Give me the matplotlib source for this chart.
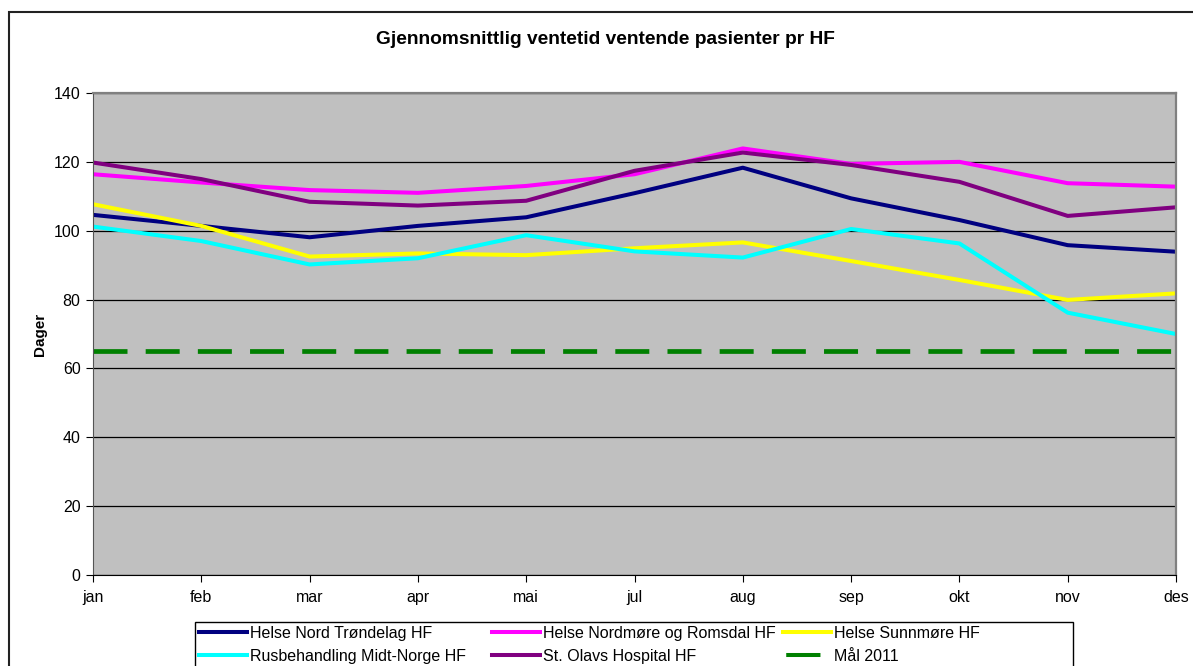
import matplotlib
matplotlib.use('Agg')
import matplotlib.pyplot as plt
from matplotlib.patches import Rectangle
from matplotlib.lines import Line2D

plt.rcParams['font.family'] = ['Liberation Sans', 'DejaVu Sans']

months = ['jan', 'feb', 'mar', 'apr', 'mai', 'jul', 'aug', 'sep', 'okt', 'nov', 'des']

nord_trondelag = [104.6, 101.4, 98.1, 101.4, 103.9, 110.9, 118.3, 109.4, 103.1, 95.8, 93.9]
nordmore_romsdal = [116.4, 114.0, 111.8, 111.0, 113.0, 116.4, 123.9, 119.4, 120.0, 113.8, 112.8]
sunnmore = [107.7, 101.4, 92.5, 93.4, 92.9, 94.9, 96.6, 91.2, 85.7, 79.9, 81.8]
rusbehandling = [101.2, 97.0, 90.2, 92.0, 98.7, 94.0, 92.2, 100.5, 96.3, 76.2, 70.0]
st_olavs = [119.8, 115.0, 108.4, 107.3, 108.7, 117.4, 122.7, 119.1, 114.2, 104.3, 106.8]
maal_2011 = [65] * len(months)

W, H = 1193, 666
fig = plt.figure(figsize=(W / 100, H / 100), dpi=100)

# outer chart frame
fig.add_artist(Rectangle((9 / W, -0.1), 1.2, 1 - 12 / H + 0.1, transform=fig.transFigure,
                         fill=False, edgecolor='#222222', lw=1.5))

ax = fig.add_axes([93 / W, (H - 575) / H, (1176 - 93) / W, (575 - 93) / H])
ax.set_facecolor('#C0C0C0')

x = range(len(months))
lw = 2.9
glw = 3.4
l1, = ax.plot(x, nord_trondelag, color='#000080', lw=lw, label='Helse Nord Trøndelag HF')
l2, = ax.plot(x, nordmore_romsdal, color='#FF00FF', lw=lw, label='Helse Nordmøre og Romsdal HF')
l3, = ax.plot(x, sunnmore, color='#FFFF00', lw=lw, label='Helse Sunnmøre HF')
l4, = ax.plot(x, rusbehandling, color='#00FFFF', lw=lw, label='Rusbehandling Midt-Norge HF')
l5, = ax.plot(x, st_olavs, color='#800080', lw=lw, label='St. Olavs Hospital HF')
l6, = ax.plot(x, maal_2011, color='#008000', lw=glw, dashes=(7.2, 3.85), label='Mål 2011')

ax.set_xlim(0, len(months) - 1)
ax.set_ylim(0, 140)
ax.set_yticks(range(0, 141, 20))
ax.set_xticks(list(x))
ax.set_xticklabels(months)
ax.yaxis.grid(True, color='black', lw=0.9)
ax.set_axisbelow(True)
ax.tick_params(axis='both', direction='out', length=5, width=0.8, labelsize=11.5, colors='black')
ax.tick_params(axis='x', pad=6)
ax.tick_params(axis='y', pad=4)

for s in ['top', 'right']:
    ax.spines[s].set_color('#808080')
    ax.spines[s].set_linewidth(1.6)
ax.spines['left'].set_color('#555555')
ax.spines['bottom'].set_color('black')

ax.set_ylabel('Dager', fontsize=11, fontweight='bold', labelpad=5)
fig.text(605 / W, 1 - 40 / H, 'Gjennomsnittlig ventetid ventende pasienter pr HF',
         ha='center', va='center', fontsize=13.8, fontweight='bold')

# legend: frame drawn separately, three single-column legends inside
fig.add_artist(Rectangle((195 / W, -0.1), (1073 - 195) / W, 0.1 + 1 - 622 / H,
                         transform=fig.transFigure, fill=False, edgecolor='black', lw=1.0))
maal_proxy = Line2D([], [], color='#008000', lw=lw, linestyle=(11.2, (8.5, 3.5)))
columns = [([l1, l4], 199), ([l2, l5], 492), ([l3, maal_proxy], 783)]
labels = [l1.get_label(), l4.get_label(), l2.get_label(), l5.get_label(), l3.get_label(), l6.get_label()]
for i, (hs, xpos) in enumerate(columns):
    leg = fig.legend(handles=hs, labels=labels[2 * i:2 * i + 2], loc='upper left',
                     bbox_to_anchor=(xpos / W, 1 - 626 / H), frameon=False,
                     fontsize=11.5, handlelength=3.0, handletextpad=0.2,
                     borderaxespad=0, borderpad=0, labelspacing=0.48)

fig.savefig('out.png', dpi=100)
